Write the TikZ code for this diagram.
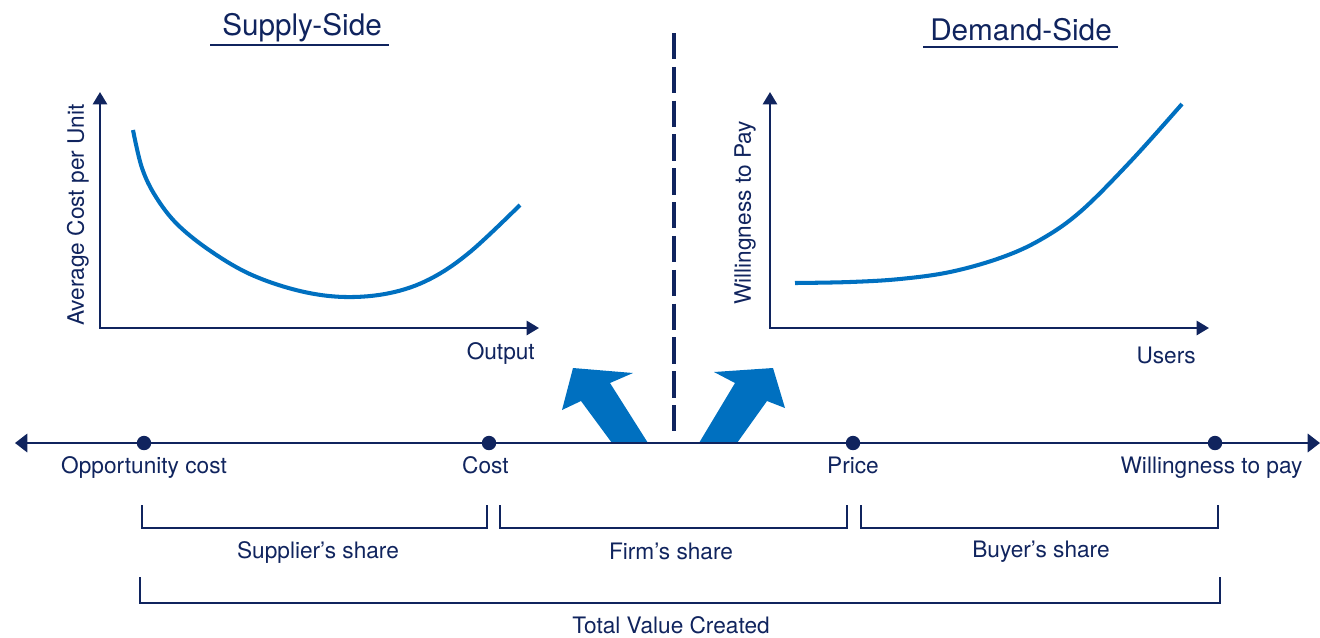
\documentclass[tikz,border=0pt]{standalone}
\usepackage{fontspec}
\setmainfont{TeX Gyre Heros}
\usetikzlibrary{positioning, arrows.meta}
\definecolor{navy}{RGB}{16,36,94}
\definecolor{curveblue}{RGB}{0,112,192}

\begin{document}
\begin{tikzpicture}[x=0.02cm, y=-0.02cm]
        % one unit is one pixel of the sketch, y grows downwards
        \tikzstyle{dot}=[circle, fill=navy, inner sep=0pt, minimum size=8.2pt]
        \tikzstyle{lbl}=[text=navy, font=\fontsize{12.9}{15}\selectfont]
        \tikzstyle{title}=[text=navy, font=\fontsize{16.9}{20}\selectfont]
        \tikzstyle{axis}=[draw=navy, line width=1.4pt, {Triangle[length=7pt,width=8pt]}-{Triangle[length=7pt,width=8pt]}]
        \tikzstyle{brace}=[draw=navy, line width=1.1pt]
        \tikzstyle{curve}=[draw=curveblue, line width=2.3pt]

        \useasboundingbox (0,0) rectangle (1320,637);

        % titles
        \node[title] (supply) at (302,28) {Supply-Side};
        \node[title] (demand) at (1021,30) {Demand-Side};
        \coordinate (sul1) at (210,45);
        \coordinate (sul2) at (389,45);
        \coordinate (dul1) at (923,47);
        \coordinate (dul2) at (1118,47);
        \draw[navy, line width=1.3pt] (sul1) -- (sul2);
        \draw[navy, line width=1.3pt] (dul1) -- (dul2);

        % supply axes
        \coordinate (sorig) at (100,328);
        \coordinate (stop) at (100,92);
        \coordinate (sright) at (539,328);
        \draw[axis] (stop) -- (sorig) -- (sright);
        \node[lbl, rotate=90] (acost) at (78,215) {Average Cost per Unit};
        \node[lbl, anchor=east] (outp) at (541,353) {Output};
        \draw[curve] plot[smooth, tension=0.6] coordinates {(133,130) (142,168) (156,197) (178,225) (212,252) (252,275) (300,291) (345,297) (390,293) (430,279) (470,252) (520,205)};

        % demand axes
        \coordinate (dorig) at (770,328);
        \coordinate (dtop) at (770,92);
        \coordinate (dright) at (1209,328);
        \draw[axis] (dtop) -- (dorig) -- (dright);
        \node[lbl, rotate=90] (wpay) at (745,213) {Willingness to Pay};
        \node[lbl, anchor=east] (users) at (1202,355) {Users};
        \draw[curve] plot[smooth, tension=0.6] coordinates {(795,283) (850,282) (900,279) (950,272) (1000,258) (1040,240) (1080,212) (1130,162) (1182,104)};

        % divider
        \coordinate (cut1) at (674,33);
        \coordinate (cut2) at (674,433);
        \draw[navy, line width=2.3pt, dash pattern=on 15pt off 4.25pt] (cut1) -- (cut2);

        % big arrows
        \fill[curveblue] (612,443) -- (581,401) -- (562,410) -- (573,368) -- (633,373) -- (610,383) -- (648,443) -- cycle;
        \fill[curveblue] (699,443) -- (735,383) -- (714,372) -- (773,368) -- (785,408) -- (767,401) -- (737,443) -- cycle;

        % value line
        \coordinate (lend) at (15,443);
        \coordinate (rend) at (1320,443);
        \draw[navy, line width=1.2pt, {Triangle[length=7pt,width=10.5pt]}-{Triangle[length=7pt,width=10.5pt]}] (lend) -- (rend);
        \node[dot] (opp) at (144,443) {};
        \node[dot] (cost) at (489,443) {};
        \node[dot] (price) at (853,443) {};
        \node[dot] (wtp) at (1215,443) {};

        \node[lbl, below=0pt of opp] {Opportunity cost};
        \node[lbl, below=0pt of cost, xshift=-2pt] {Cost};
        \node[lbl, below=0pt of price] {Price};
        \node[lbl, below=0pt of wtp, xshift=-2pt] {Willingness to pay};

        % shares
        \coordinate (sup1) at (142,505);
        \coordinate (sup2) at (487,505);
        \coordinate (firm1) at (500,505);
        \coordinate (firm2) at (847,505);
        \coordinate (buy1) at (861,505);
        \coordinate (buy2) at (1218,505);
        \coordinate (tot1) at (140,577);
        \coordinate (tot2) at (1220,577);
        \draw[brace] (sup1) -- ++(0,23) -| (sup2);
        \draw[brace] (firm1) -- ++(0,23) -| (firm2);
        \draw[brace] (buy1) -- ++(0,23) -| (buy2);
        \draw[brace] (tot1) -- ++(0,26) -| (tot2);

        \node[lbl] (supshare) at (318,552) {Supplier's share};
        \node[lbl] (firmshare) at (671,551) {Firm's share};
        \node[lbl] (buyshare) at (1041,552) {Buyer's share};
        \node[lbl] (total) at (671,625) {Total Value Created};
      \end{tikzpicture}
\end{document}
